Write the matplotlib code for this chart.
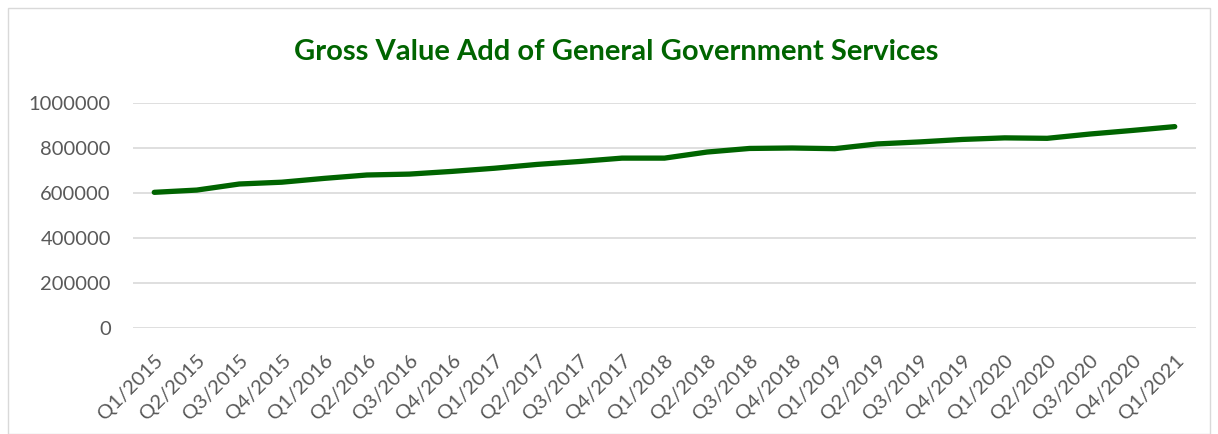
import matplotlib
matplotlib.use("Agg")
import matplotlib.pyplot as plt
from matplotlib.patches import Rectangle

quarters = ["Q1/2015", "Q2/2015", "Q3/2015", "Q4/2015",
            "Q1/2016", "Q2/2016", "Q3/2016", "Q4/2016",
            "Q1/2017", "Q2/2017", "Q3/2017", "Q4/2017",
            "Q1/2018", "Q2/2018", "Q3/2018", "Q4/2018",
            "Q1/2019", "Q2/2019", "Q3/2019", "Q4/2019",
            "Q1/2020", "Q2/2020", "Q3/2020", "Q4/2020",
            "Q1/2021"]
gva = [603000, 613000, 640000, 648000,
       665000, 680000, 684000, 696000,
       710000, 727000, 740000, 755000,
       755000, 782000, 798000, 800000,
       797000, 818000, 827000, 838000,
       845000, 843000, 862000, 878000,
       895000]
yticks = [0, 200000, 400000, 600000, 800000, 1000000]

plt.rcParams['font.family'] = ['Lato', 'DejaVu Sans']

W, H = 1218, 434
fig = plt.figure(figsize=(W / 100, H / 100), dpi=100)
ax = fig.add_axes([133 / W, 1 - 328 / H, (1196 - 133) / W, (328 - 103) / H])

x = list(range(len(quarters)))
ax.plot(x, gva, color='#006400', lw=3.8, solid_capstyle='round', zorder=3)

ax.set_xlim(-0.5, len(quarters) - 0.5)
ax.set_ylim(0, 1000000)
ax.set_yticks(yticks)
ax.set_yticklabels([str(v) for v in yticks])
ax.set_xticks(x)
ax.set_xticklabels(quarters, rotation=45, ha='right', rotation_mode='anchor')
ax.tick_params(axis='both', length=0, colors='#595959', labelsize=14.5)
ax.tick_params(axis='y', pad=16)
ax.tick_params(axis='x', pad=17)
ax.grid(axis='y', color='#d9d9d9', lw=1.2)
ax.set_axisbelow(True)
for s in ax.spines.values():
    s.set_visible(False)

fig.text(616 / W, 1 - 52 / H, "Gross Value Add of General Government Services",
         ha='center', va='center', fontsize=21, fontweight='bold', color='#006400')

fig.patches.append(Rectangle((8 / W, 0), (1210 - 8) / W, 1 - 8 / H, transform=fig.transFigure,
                             fill=False, edgecolor='#d9d9d9', lw=1))

fig.savefig("out.png", dpi=100)
